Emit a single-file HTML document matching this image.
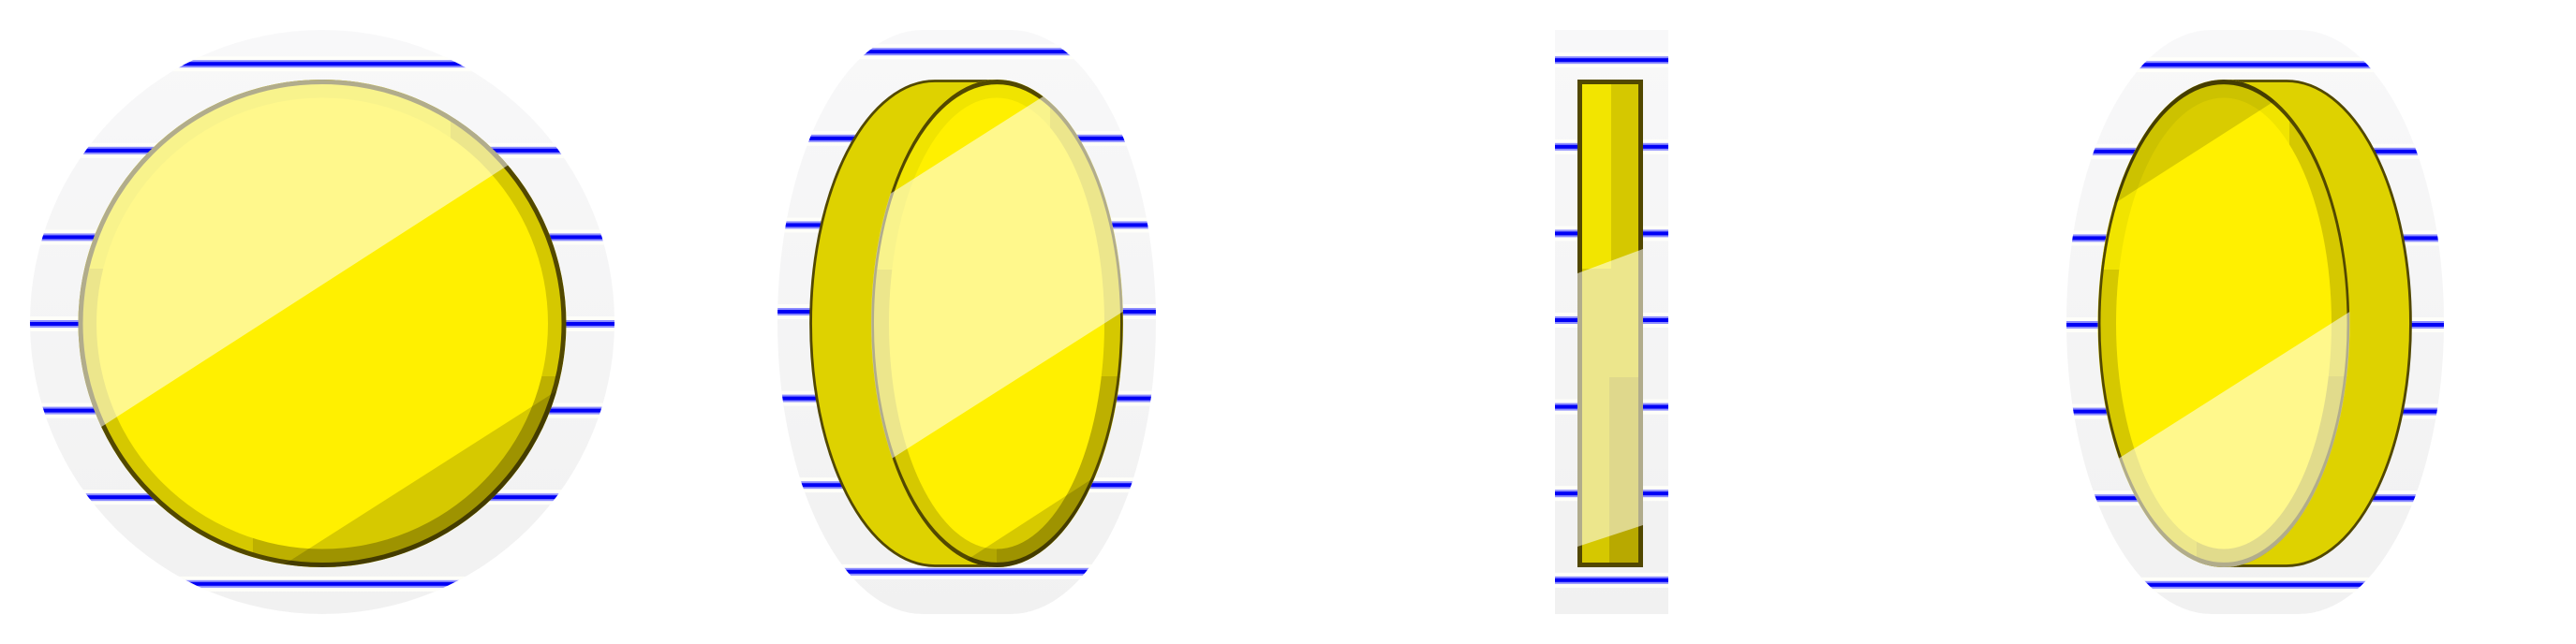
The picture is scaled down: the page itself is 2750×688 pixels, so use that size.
<!DOCTYPE html>
<html lang="en">
<head>
<meta charset="utf-8">
<title>Yellow disc seen from four angles</title>
<style>
html,body{margin:0;padding:0;background:#fff;width:2750px;height:688px;overflow:hidden}
svg{display:block}
</style>
</head>
<body>
<svg id="scene" xmlns="http://www.w3.org/2000/svg" width="2750" height="688" viewBox="0 0 2750 688">
<defs>
  <linearGradient id="bgFade" x1="0" y1="0" x2="0" y2="1">
    <stop offset="0" stop-color="#f8f8f9"/>
    <stop offset="1" stop-color="#f1f1f1"/>
  </linearGradient>
  <clipPath id="bgClip1"><circle cx="344" cy="344" r="312"/></clipPath>
  <clipPath id="bgClip2"><path d="M985 32L1079 32A155 312 0 0 1 1079 656L985 656A155 312 0 0 1 985 32Z"/></clipPath>
  <clipPath id="bgClip3"><rect x="1660" y="32" width="121" height="624"/></clipPath>
  <clipPath id="bgClip4"><path d="M2361 32L2454 32A155 312 0 0 1 2454 656L2361 656A155 312 0 0 1 2361 32Z"/></clipPath>
  <clipPath id="discClip1"><ellipse cx="344" cy="345.5" rx="260.5" ry="260.5"/></clipPath>
  <clipPath id="discClip2"><ellipse cx="1064.5" cy="345.5" rx="134.5" ry="260.5"/></clipPath>
  <clipPath id="discClip3"><rect x="1684" y="85" width="70" height="521"/></clipPath>
  <clipPath id="discClip4"><ellipse cx="2374" cy="345.5" rx="134.5" ry="260.5"/></clipPath>
</defs>

<!-- View 1: face-on -->
<g>
  <circle cx="344" cy="344" r="312" fill="url(#bgFade)"/>
  <g class="stripes" clip-path="url(#bgClip1)" data-midline="346" data-left="30" data-width="630"></g>
  <g clip-path="url(#discClip1)">
    <rect x="80" y="80" width="530" height="530" fill="#d5c800"/>
    <rect x="80" y="80" width="401" height="207" fill="#f0e400"/>
    <rect x="270" y="402" width="340" height="210" fill="#bdb000"/>
    <ellipse cx="344" cy="345.5" rx="241" ry="241" fill="#fff000"/>
    <ellipse cx="344" cy="345.5" rx="258" ry="258" fill="none" stroke="#524800" stroke-width="5"/>
    <polygon points="60,487 700,75 700,-10 60,-10" fill="#fff" fill-opacity=".55"/>
    <polygon points="250,637 650,382 650,640 250,640" fill="#000" fill-opacity=".16"/>
  </g>
</g>

<!-- View 2: turned, body to the left -->
<g>
  <path d="M985 32L1079 32A155 312 0 0 1 1079 656L985 656A155 312 0 0 1 985 32Z" fill="url(#bgFade)"/>
  <g class="stripes" clip-path="url(#bgClip2)" data-midline="333" data-left="825" data-width="415"></g>
  <path d="M1064 86.5L998 86.5A132.5 259 0 0 0 998 604.5L1064 604.5Z" fill="#ded200" stroke="#524800" stroke-width="2.8"/>
  <g clip-path="url(#discClip2)">
    <rect x="925" y="80" width="280" height="530" fill="#d5c800"/>
    <rect x="925" y="80" width="196" height="208" fill="#f0e400"/>
    <rect x="1064" y="402" width="141" height="210" fill="#bdb000"/>
    <ellipse cx="1064" cy="345.5" rx="115" ry="241" fill="#fff000"/>
    <circle transform="translate(1064.5 345.5) scale(.515 1)" r="258" fill="none" stroke="#524800" stroke-width="5.2"/>
    <polygon points="900,239 1230,29 1230,313 900,523" fill="#fff" fill-opacity=".55"/>
    <polygon points="1000,619 1230,470 1230,640 1000,640" fill="#000" fill-opacity=".16"/>
  </g>
</g>

<!-- View 3: edge-on -->
<g>
  <rect x="1660" y="32" width="121" height="624" fill="url(#bgFade)"/>
  <g class="stripes" clip-path="url(#bgClip3)" data-midline="342" data-left="1660" data-width="121"></g>
  <g clip-path="url(#discClip3)">
    <rect x="1684" y="85" width="70" height="521" fill="#d5c800"/>
    <rect x="1684" y="85" width="36" height="202" fill="#f2e500"/>
    <rect x="1718" y="403" width="36" height="203" fill="#b8a900"/>
    <rect x="1686.5" y="87.5" width="65" height="516" fill="none" stroke="#524800" stroke-width="5"/>
    <polygon points="1684,292 1754,266 1754,561 1684,584" fill="#fff" fill-opacity=".55"/>
  </g>
</g>

<!-- View 4: turned, body to the right -->
<g>
  <path d="M2361 32L2454 32A155 312 0 0 1 2454 656L2361 656A155 312 0 0 1 2361 32Z" fill="url(#bgFade)"/>
  <g class="stripes" clip-path="url(#bgClip4)" data-midline="347" data-left="2200" data-width="415"></g>
  <path d="M2374 86.5L2441 86.5A132.5 259 0 0 1 2441 604.5L2374 604.5Z" fill="#ded200" stroke="#524800" stroke-width="2.8"/>
  <g clip-path="url(#discClip4)">
    <rect x="2235" y="80" width="280" height="530" fill="#d5c800"/>
    <rect x="2235" y="80" width="209" height="208" fill="#f0e400"/>
    <rect x="2345" y="402" width="170" height="210" fill="#bdb000"/>
    <ellipse cx="2374" cy="345.5" rx="115" ry="241" fill="#fff000"/>
    <circle transform="translate(2374 345.5) scale(.515 1)" r="258" fill="none" stroke="#524800" stroke-width="5.2"/>
    <polygon points="2200,254 2500,62 2500,40 2200,40" fill="#000" fill-opacity=".15"/>
    <polygon points="2200,529 2540,313 2540,640 2200,640" fill="#fff" fill-opacity=".55"/>
  </g>
</g>
</svg>
<script>
const stripeRows = [-3, -2, -1, 0, 1, 2, 3];
const rowStep = 92.6;
function rowToY(row, midline) { return midline + row * rowStep; }
const NS = 'http://www.w3.org/2000/svg';
function band(parent, x, w, y, h, fill, opacity, name) {
  const r = document.createElementNS(NS, 'rect');
  r.setAttribute('x', x);
  r.setAttribute('y', y - h / 2);
  r.setAttribute('width', w);
  r.setAttribute('height', h);
  r.setAttribute('fill', fill);
  r.setAttribute('fill-opacity', opacity);
  
  
  parent.appendChild(r);
}
document.querySelectorAll('.stripes').forEach(function (g) {
  const mid = parseFloat(g.getAttribute('data-midline'));
  const left = parseFloat(g.getAttribute('data-left'));
  const width = parseFloat(g.getAttribute('data-width'));
  stripeRows.forEach(function (row) {
    const y = rowToY(row, mid);
    band(g, left, width, y, 16, '#fffffa', 0.9, 'stripe-glow');
    band(g, left, width, y, 8, '#8c8cff', 1, 'stripe-edge');
    band(g, left, width, y, 4, '#0000f5', 1, 'stripe-line');
  });
});
</script>
</body>
</html>
